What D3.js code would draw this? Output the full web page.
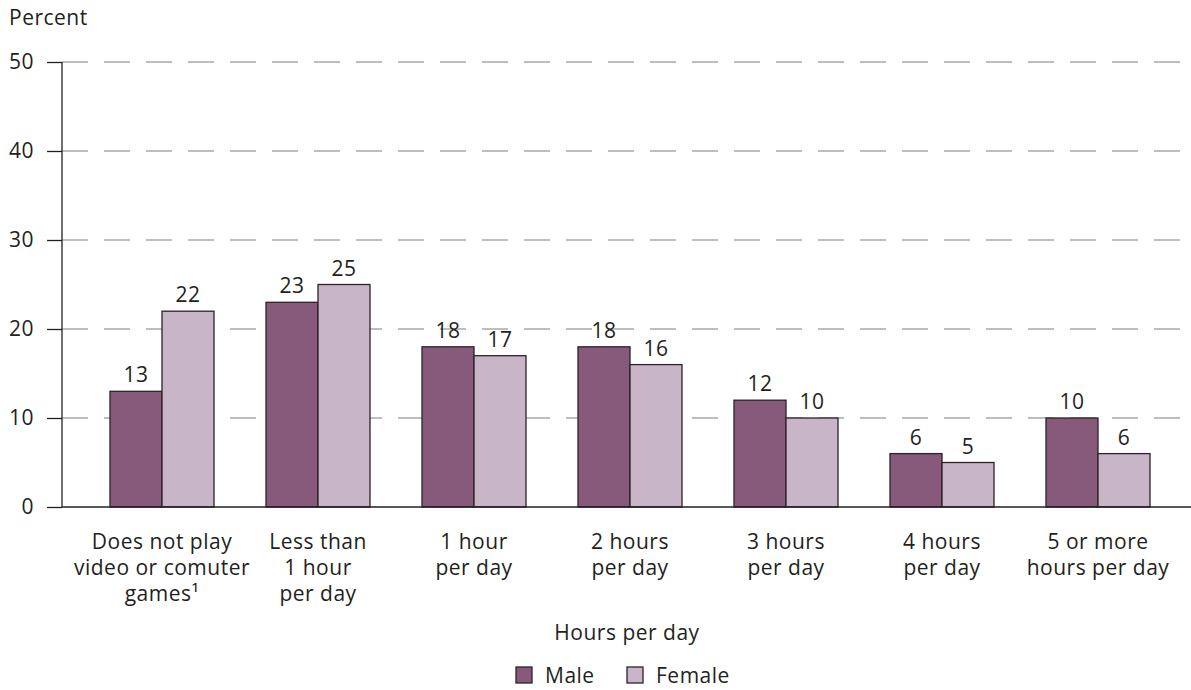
<!DOCTYPE html>
<html>
<head>
<meta charset="utf-8">
<script src="https://cdn.jsdelivr.net/npm/d3@7"></script>
<style>
  html, body { margin: 0; padding: 0; background: #fff; }
  svg text { font-family: "Open Sans", "DejaVu Sans", sans-serif; fill: #231f20; letter-spacing: 0.5px; }
</style>
</head>
<body>
<svg id="chart" width="1191" height="690"></svg>
<script>
// Categories (each label line listed separately)
const categories = [
  ["Does not play", "video or comuter", "games\u00b9"],
  ["Less than", "1 hour", "per day"],
  ["1 hour", "per day"],
  ["2 hours", "per day"],
  ["3 hours", "per day"],
  ["4 hours", "per day"],
  ["5 or more", "hours per day"]
];
const seriesNames = ["Male", "Female"];
const maleValues = [13, 23, 18, 18, 12, 6, 10];
const femaleValues = [22, 25, 17, 16, 10, 5, 6];
const yTicks = [0, 10, 20, 30, 40, 50];
const colors = ["#87597b", "#c9b5c8"];

const svg = d3.select("#chart");
const axisX = 62, plotRight = 1191;
const y0px = 507, y50px = 62;
const fs = 21;

const x = d3.scaleBand()
  .domain(d3.range(categories.length))
  .range([84, 84 + 156 * categories.length])
  .paddingInner(1 / 3)
  .paddingOuter(1 / 6);
const xs = d3.scaleBand().domain([0, 1]).range([0, x.bandwidth()]);
const y = d3.scaleLinear().domain([0, 50]).range([y0px, y50px]);

// Dashed gridlines
svg.append("g").selectAll("line")
  .data(yTicks.filter(d => d > 0))
  .join("line")
  .attr("x1", axisX).attr("x2", plotRight)
  .attr("y1", d => y(d)).attr("y2", d => y(d))
  .attr("stroke", "#a7a9ac").attr("stroke-width", 1.3)
  .attr("stroke-dasharray", "26 16");

// Y axis
const yAxis = d3.axisLeft(y).tickValues(yTicks).tickSize(15).tickPadding(13);
const gy = svg.append("g").attr("transform", `translate(${axisX},0)`).call(yAxis);
gy.select(".domain").remove();
gy.selectAll(".tick line").attr("stroke", "#231f20").attr("stroke-width", 1.3);
gy.selectAll(".tick text").attr("font-size", fs).attr("font-family", "Open Sans").attr("fill", "#231f20");
svg.append("line").attr("x1", axisX).attr("x2", axisX)
  .attr("y1", y(50)).attr("y2", y(0)).attr("stroke", "#231f20").attr("stroke-width", 1.3);

// Bars
const series = [maleValues, femaleValues];
const groups = svg.append("g").selectAll("g")
  .data(categories.map((c, i) => i))
  .join("g")
  .attr("transform", i => `translate(${x(i)},0)`);

groups.selectAll("rect")
  .data(i => series.map((s, k) => ({ k, v: s[i] })))
  .join("rect")
  .attr("x", d => xs(d.k))
  .attr("width", xs.bandwidth())
  .attr("y", d => y(d.v))
  .attr("height", d => y(0) - y(d.v))
  .attr("fill", d => colors[d.k])
  .attr("stroke", "#2b2325").attr("stroke-width", 1.3);

groups.selectAll("text.val")
  .data(i => series.map((s, k) => ({ k, v: s[i] })))
  .join("text")
  .attr("class", "val")
  .attr("x", d => xs(d.k) + xs.bandwidth() / 2)
  .attr("y", d => y(d.v) - 9)
  .attr("text-anchor", "middle")
  .attr("font-size", fs)
  .text(d => d.v);

// Baseline
svg.append("line").attr("x1", axisX).attr("x2", plotRight)
  .attr("y1", y(0)).attr("y2", y(0)).attr("stroke", "#231f20").attr("stroke-width", 1.3);

// Category labels
groups.append("text")
  .attr("x", x.bandwidth() / 2)
  .attr("text-anchor", "middle")
  .attr("font-size", fs)
  .selectAll("tspan")
  .data(i => categories[i])
  .join("tspan")
  .attr("x", x.bandwidth() / 2)
  .attr("y", (d, j) => 549 + j * 26)
  .text(d => d);

// Axis titles
svg.append("text").attr("x", 9).attr("y", 25).attr("font-size", fs).text("Percent");
svg.append("text").attr("x", 627).attr("y", 640).attr("text-anchor", "middle")
  .attr("font-size", fs).text("Hours per day");

// Legend
const legendX = [516, 627];
const leg = svg.append("g").selectAll("g").data(seriesNames).join("g")
  .attr("transform", (d, i) => `translate(${legendX[i]},667)`);
leg.append("rect").attr("width", 16).attr("height", 16)
  .attr("fill", (d, i) => colors[i]).attr("stroke", "#2b2325").attr("stroke-width", 1.3);
leg.append("text").attr("x", 29).attr("y", 16).attr("font-size", fs).text(d => d);
</script>
</body>
</html>
